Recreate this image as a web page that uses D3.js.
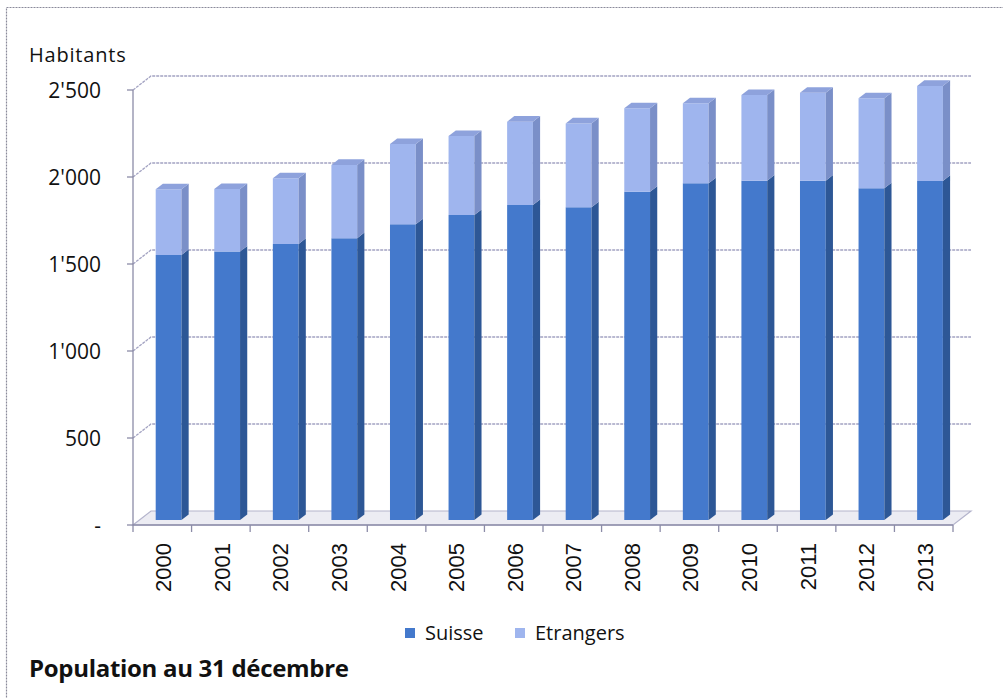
<!DOCTYPE html>
<html lang="fr">
<head>
    <meta charset="UTF-8">
    <title>Population au 31 décembre</title>
    <script src="https://d3js.org/d3.v7.min.js"></script>
    <style>
        body { margin: 0; background-color: #ffffff; }
        .grid { fill: none; stroke: #a3a3c2; stroke-width: 1.3; stroke-dasharray: 3 1; }
        .axis-line { stroke: #8c8ca8; stroke-width: 1.3; fill: none; }
        .ylab { font-family: "Open Sans", "Noto Sans", sans-serif; font-size: 21px; fill: #111; }
        .xlab { font-family: "Liberation Sans", Arial, sans-serif; font-size: 22px; fill: #111; }
        .legend-text { font-family: "Open Sans", "Noto Sans", sans-serif; font-size: 20px; fill: #111; }
    </style>
</head>
<body>
    <div id="chart"></div>
    <script type="text/javascript">
        const years = ["2000", "2001", "2002", "2003", "2004", "2005", "2006",
                       "2007", "2008", "2009", "2010", "2011", "2012", "2013"];
        const suisse = [1524, 1543, 1587, 1620, 1700, 1753, 1811, 1798, 1887, 1936, 1951, 1951, 1907, 1949];
        const etrangers = [377, 360, 377, 421, 461, 454, 479, 482, 480, 459, 492, 505, 517, 546];
        const yTicks = [0, 500, 1000, 1500, 2000, 2500];
        const yTickLabels = ["-", "500", "1'000", "1'500", "2'000", "2'500"];
        const seriesNames = ["Suisse", "Etrangers"];

        const width = 1003, height = 698;
        // 3D depth of the plot box (back wall offset)
        const depthX = 18, depthY = -14;

        const x = d3.scaleBand().domain(years).range([133, 953]);
        const y = d3.scaleLinear().domain([0, 2500]).range([525, 90]);

        // faces: front, side, top
        const colors = {
            Suisse:    { front: "#4479cc", side: "#2d5796", top: "#5a88d2" },
            Etrangers: { front: "#9fb5ee", side: "#7a8fc8", top: "#8ea2dc" }
        };

        const rows = years.map((yr, i) => ({ year: yr, Suisse: suisse[i], Etrangers: etrangers[i] }));
        const stacked = d3.stack().keys(seriesNames)(rows);

        const svg = d3.select("#chart").append("svg")
            .attr("width", width)
            .attr("height", height);

        // dotted frame of the chart area
        svg.append("rect")
            .attr("x", 6.5).attr("y", 7.5)
            .attr("width", 1020).attr("height", 720)
            .attr("fill", "none")
            .attr("stroke", "#8a8a9a")
            .attr("stroke-width", 1.2)
            .attr("stroke-dasharray", "2 1");

        const x0 = x.range()[0], x1 = x.range()[1];
        const pt = (px, py, d) => [px + d * depthX, py + d * depthY];

        // floor
        svg.append("path")
            .attr("d", d3.line()([pt(x0, y(0), 0), pt(x1, y(0), 0), pt(x1, y(0), 1), pt(x0, y(0), 1)]) + "Z")
            .attr("fill", "#ececf3")
            .attr("stroke", "#b4b4cc")
            .attr("stroke-width", 1.2);

        // gridlines on the left wall and back wall
        svg.selectAll(".grid")
            .data(yTicks.slice(1))
            .join("path")
            .attr("class", "grid")
            .attr("d", v => d3.line()([pt(x0, y(v), 0), pt(x0, y(v), 1), pt(x1, y(v), 1)]));

        // y axis
        svg.append("line")
            .attr("class", "axis-line")
            .attr("x1", x0).attr("x2", x0)
            .attr("y1", y(2500)).attr("y2", y(0));

        svg.selectAll(".ytick")
            .data(yTicks)
            .join("line")
            .attr("class", "axis-line")
            .attr("x1", x0 - 6).attr("x2", x0)
            .attr("y1", v => y(v)).attr("y2", v => y(v));

        svg.selectAll(".ylab")
            .data(yTicks)
            .join("text")
            .attr("class", "ylab")
            .attr("x", 101)
            .attr("y", v => y(v) + 7.5)
            .attr("text-anchor", "end")
            .text((v, i) => yTickLabels[i]);

        // x axis line and ticks
        svg.append("line")
            .attr("class", "axis-line")
            .attr("x1", x0).attr("x2", x1)
            .attr("y1", y(0)).attr("y2", y(0));

        svg.selectAll(".xtick")
            .data(years.concat(["end"]))
            .join("line")
            .attr("class", "axis-line")
            .attr("x1", (d, i) => x0 + i * x.step())
            .attr("x2", (d, i) => x0 + i * x.step())
            .attr("y1", y(0)).attr("y2", y(0) + 7);

        svg.selectAll(".xlab")
            .data(years)
            .join("text")
            .attr("class", "xlab")
            .attr("transform", d => "translate(" + (x(d) + x.bandwidth() / 2 + 9) + "," + 543 + ") rotate(-90)")
            .attr("text-anchor", "end")
            .text(d => d);

        // 3D bars: front face sits part way into the box
        const frontD = 0.35, backD = 0.75;
        const barW = x.bandwidth() * 0.44;
        const bars = svg.append("g");

        years.forEach((yr, i) => {
            const left = x(yr) + (x.bandwidth() - barW) / 2;
            const right = left + barW;
            stacked.forEach((s, k) => {
                const v0 = s[i][0], v1 = s[i][1];
                const c = colors[s.key];
                const g = bars.append("g");
                // front
                g.append("path")
                    .attr("d", d3.line()([pt(left, y(v0), frontD), pt(right, y(v0), frontD),
                                          pt(right, y(v1), frontD), pt(left, y(v1), frontD)]) + "Z")
                    .attr("fill", c.front);
                // side
                g.append("path")
                    .attr("d", d3.line()([pt(right, y(v0), frontD), pt(right, y(v0), backD),
                                          pt(right, y(v1), backD), pt(right, y(v1), frontD)]) + "Z")
                    .attr("fill", c.side);
                // top (only the upper segment shows it)
                if (k === stacked.length - 1) {
                    g.append("path")
                        .attr("d", d3.line()([pt(left, y(v1), frontD), pt(right, y(v1), frontD),
                                              pt(right, y(v1), backD), pt(left, y(v1), backD)]) + "Z")
                        .attr("fill", c.top);
                }
            });
        });

        // axis title
        svg.append("text")
            .attr("x", 29).attr("y", 62)
            .attr("font-family", "Open Sans, Noto Sans, sans-serif")
            .attr("font-size", 20)
            .attr("letter-spacing", 0.8)
            .attr("fill", "#111")
            .text("Habitants");

        // legend
        const legend = svg.append("g").attr("transform", "translate(405,628)");
        const legendX = [0, 110];
        seriesNames.forEach((name, i) => {
            legend.append("rect")
                .attr("x", legendX[i]).attr("y", 0)
                .attr("width", 10).attr("height", 10)
                .attr("fill", colors[name].front);
            legend.append("text")
                .attr("class", "legend-text")
                .attr("x", legendX[i] + 20).attr("y", 12)
                .text(name);
        });

        // chart title
        svg.append("text")
            .attr("x", 29).attr("y", 677)
            .attr("font-family", "Open Sans, Noto Sans, sans-serif")
            .attr("font-size", 24)
            .attr("font-weight", "bold")
            .attr("letter-spacing", -0.3)
            .attr("fill", "#111")
            .text("Population au 31 décembre");
    </script>
</body>
</html>
